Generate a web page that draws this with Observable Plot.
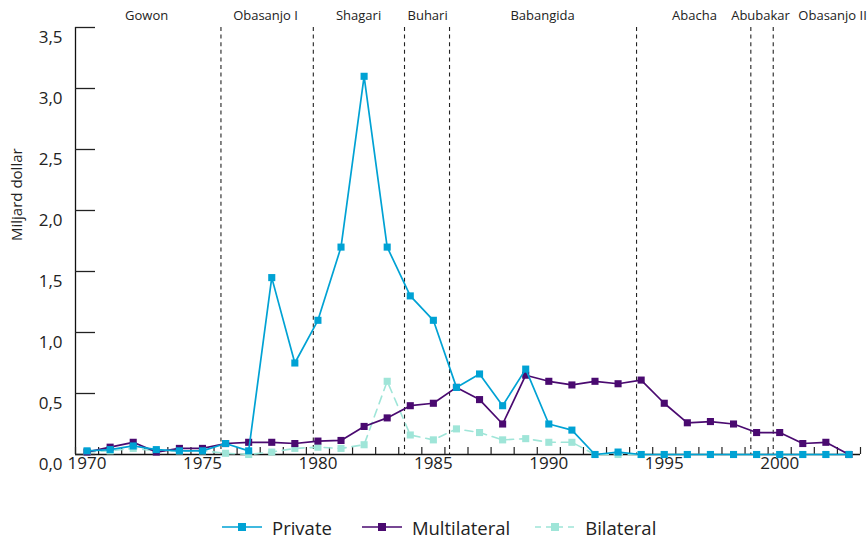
<!DOCTYPE html>
<html>
<head>
<meta charset="utf-8">
<script src="https://cdn.jsdelivr.net/npm/d3@7"></script>
<script src="https://cdn.jsdelivr.net/npm/@observablehq/plot@0.6"></script>
<style>
  html, body { margin: 0; padding: 0; background: #fff; }
  body { position: relative; width: 867px; height: 541px; overflow: hidden; font-family: "Open Sans", sans-serif; }
  #legend { position: absolute; left: 222px; top: 514px; height: 26px; display: flex; align-items: center; font-size: 18.5px; color: #222; }
  .item { display: flex; align-items: center; }
  .item svg { margin-right: 10px; }
</style>
</head>
<body>
<div id="chart"></div>
<div id="legend"></div>
<script>
const years = d3.range(1970, 2004);
const privateDebt = [0.03,0.04,0.07,0.04,0.03,0.03,0.09,0.03,1.45,0.75,1.10,1.70,3.10,1.70,1.30,1.10,0.55,0.66,0.40,0.70,0.25,0.20,0.00,0.02,0.00,0,0,0,0,0,0,0,0,0];
const multilateral = [0.02,0.06,0.10,0.02,0.05,0.05,0.09,0.10,0.10,0.09,0.11,0.115,0.23,0.30,0.40,0.42,0.55,0.45,0.25,0.65,0.60,0.57,0.60,0.58,0.61,0.42,0.26,0.27,0.25,0.18,0.18,0.09,0.10,0.00];
const bilateral = [0.02,0.03,0.05,0.03,0.03,0.03,0.01,0.00,0.02,0.05,0.06,0.05,0.08,0.60,0.16,0.12,0.21,0.18,0.12,0.13,0.10,0.10,0,0,0,0,0,0,0,0,0,0,0,0];
const seriesNames = ["Private", "Multilateral", "Bilateral"];
const seriesColors = ["#00a2d4", "#4a0a70", "#9fe5d8"];
const legendGaps = [30, 25, 0];
const yTicks = [0, 0.5, 1, 1.5, 2, 2.5, 3, 3.5];
const xLabelTicks = [1970, 1975, 1980, 1985, 1990, 1995, 2000];
const eraBreaks = [1975.8, 1979.8, 1983.75, 1985.7, 1993.8, 1998.75, 1999.72];
const eraNames = ["Gowon", "Obasanjo I", "Shagari", "Buhari", "Babangida", "Abacha", "Abubakar", "Obasanjo II"];
const eraLabelX = [1972.58, 1977.73, 1981.76, 1984.75, 1989.73, 1996.31, 1999.17, 2002.29];

const xDomain = [years[0] - 0.5, years[years.length - 1] + 0.5];
const bandTicks = d3.range(xDomain[0], xDomain[1] + 0.01, 1);

const rows = (vals) => years.map((y, i) => ({year: y, value: vals[i]}));
const priv = rows(privateDebt), multi = rows(multilateral), bil = rows(bilateral);
const eras = eraNames.map((n, i) => ({name: n, x: eraLabelX[i]}));
const comma = d => d3.format(".1f")(d).replace(".", ",");

const chart = Plot.plot({
  width: 867,
  height: 500,
  marginLeft: 75,
  marginRight: 7,
  marginTop: 27,
  marginBottom: 46,
  style: {fontFamily: "Open Sans, sans-serif", color: "#222", background: "#fff"},
  x: {domain: xDomain, axis: null},
  y: {domain: [0, 3.5], axis: null},
  marks: [
    Plot.ruleX(eraBreaks, {stroke: "#222", strokeWidth: 1.1, strokeDasharray: "4,3.6"}),
    Plot.ruleX([xDomain[0]], {stroke: "#111", strokeWidth: 1.3}),
    Plot.ruleY([0], {stroke: "#111", strokeWidth: 1.5}),
    Plot.axisX({ticks: bandTicks, tickSize: -7, tickFormat: () => "", strokeWidth: 1.2, label: null}),
    Plot.axisX({ticks: xLabelTicks, tickSize: 0, tickPadding: 2, tickFormat: d => String(d), fontSize: 17, label: null}),
    Plot.axisY({ticks: yTicks, tickSize: -20, tickFormat: () => "", strokeWidth: 1.3, label: null}),
    Plot.axisY({ticks: yTicks, tickSize: 0, tickPadding: 13, dy: 10, tickFormat: comma, fontSize: 17, label: null}),
    Plot.text(["Miljard dollar"], {frameAnchor: "left", dx: -58, rotate: -90, fontSize: 15, fill: "#222"}),
    Plot.text(eras, {x: "x", text: "name", frameAnchor: "top", dy: -12, lineAnchor: "middle", fontSize: 13, fill: "#222"}),
    Plot.line(bil, {x: "year", y: "value", stroke: seriesColors[2], strokeWidth: 1.6, strokeDasharray: "8,6"}),
    Plot.dot(bil, {x: "year", y: "value", symbol: "square", r: 4, fill: seriesColors[2]}),
    Plot.line(multi, {x: "year", y: "value", stroke: seriesColors[1], strokeWidth: 1.7}),
    Plot.dot(multi, {x: "year", y: "value", symbol: "square", r: 4, fill: seriesColors[1]}),
    Plot.line(priv, {x: "year", y: "value", stroke: seriesColors[0], strokeWidth: 1.7}),
    Plot.dot(priv, {x: "year", y: "value", symbol: "square", r: 4, fill: seriesColors[0]})
  ]
});
document.getElementById("chart").appendChild(chart);

const legend = document.getElementById("legend");
seriesNames.forEach((name, i) => {
  const item = document.createElement("div");
  item.className = "item";
  item.style.marginRight = legendGaps[i] + "px";
  const dash = i === 2 ? ' stroke-dasharray="6,5"' : '';
  item.innerHTML = `<svg width="40" height="12"><line x1="0" x2="40" y1="6" y2="6" stroke="${seriesColors[i]}" stroke-width="1.7"${dash}/><rect x="16" y="2" width="8" height="8" fill="${seriesColors[i]}"/></svg><span>${name}</span>`;
  legend.appendChild(item);
});
</script>
</body>
</html>
